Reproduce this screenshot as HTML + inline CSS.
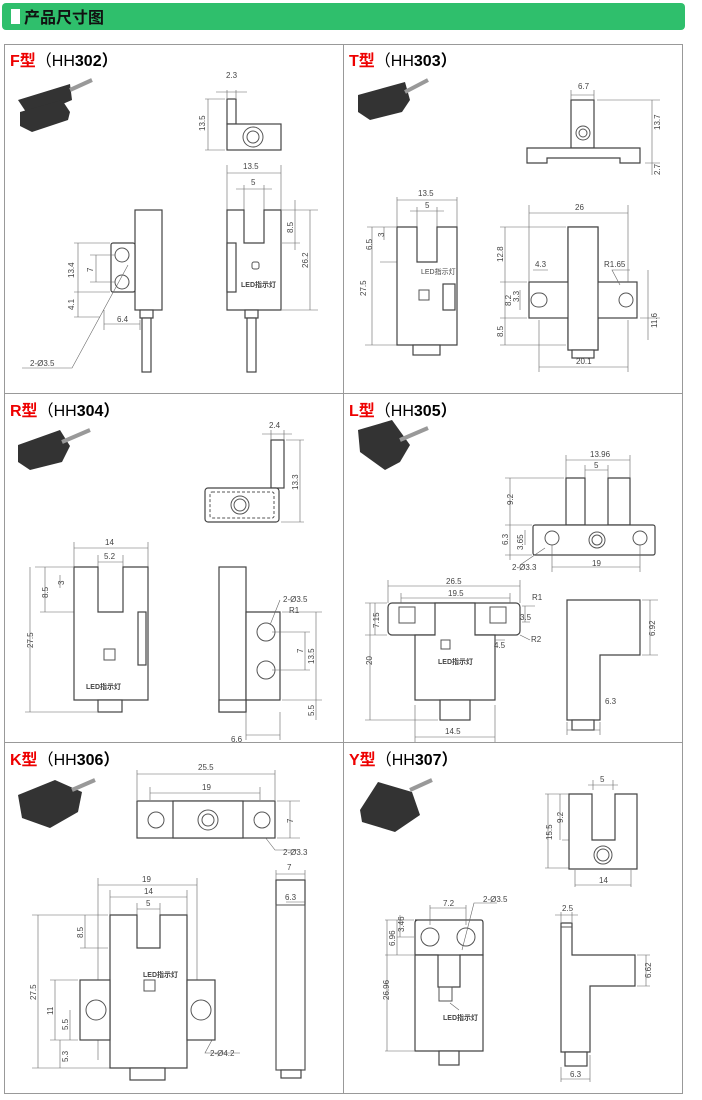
<!DOCTYPE html>
<html><head><meta charset="utf-8"><style>
body{margin:0;background:#fff;width:702px;height:1100px;overflow:hidden}
svg{display:block}
.l{stroke:#555;stroke-width:1;fill:none}
.d{stroke:#666;stroke-width:.6;fill:none}
.b{stroke:#444;stroke-width:1.2;fill:#fff}
text{font-family:"Liberation Sans","Noto Sans CJK SC",sans-serif;fill:#444;font-size:8px}
.t{font-size:16px;font-weight:bold;fill:#000}
.ph{fill:#333}
</style></head><body>
<svg width="702" height="1100" viewBox="0 0 702 1100" xmlns="http://www.w3.org/2000/svg">
<rect x="2" y="3" width="683" height="27" rx="4" fill="#2fbf6c"/>
<rect x="11" y="9" width="9" height="15" fill="#fff"/>
<text x="24" y="23" style="font-size:16px;font-weight:bold;fill:#111">产品尺寸图</text>
<rect x="4.5" y="44.5" width="678" height="1049" fill="none" stroke="#999"/>
<line x1="343.5" y1="44" x2="343.5" y2="1093" stroke="#999"/>
<line x1="4" y1="393.5" x2="683" y2="393.5" stroke="#999"/>
<line x1="4" y1="742.5" x2="683" y2="742.5" stroke="#999"/>

<!-- titles -->
<text x="10" y="66" class="t"><tspan fill="#e00">F型</tspan><tspan font-weight="normal">（HH</tspan>302）</text>
<text x="349" y="66" class="t"><tspan fill="#e00">T型</tspan><tspan font-weight="normal">（HH</tspan>303）</text>
<text x="10" y="416" class="t"><tspan fill="#e00">R型</tspan><tspan font-weight="normal">（HH</tspan>304）</text>
<text x="349" y="416" class="t"><tspan fill="#e00">L型</tspan><tspan font-weight="normal">（HH</tspan>305）</text>
<text x="10" y="765" class="t"><tspan fill="#e00">K型</tspan><tspan font-weight="normal">（HH</tspan>306）</text>
<text x="349" y="765" class="t"><tspan fill="#e00">Y型</tspan><tspan font-weight="normal">（HH</tspan>307）</text>

<!-- photos -->
<g class="ph">
<polygon points="18,100 70,84 72,100 30,118"/><polygon points="20,112 62,100 70,112 68,120 32,132 20,126"/><line x1="70" y1="90" x2="92" y2="80" stroke="#999" stroke-width="4"/>
<polygon points="358,95 405,82 410,100 402,112 370,120 358,112"/><line x1="405" y1="92" x2="428" y2="80" stroke="#999" stroke-width="4"/>
<polygon points="18,445 60,430 70,446 62,462 30,470 18,462"/><line x1="62" y1="442" x2="90" y2="430" stroke="#999" stroke-width="4"/>
<polygon points="358,430 392,420 410,445 400,462 385,470 360,452"/><line x1="400" y1="440" x2="428" y2="428" stroke="#999" stroke-width="4"/>
<polygon points="18,795 55,780 82,792 78,812 50,828 22,818"/><line x1="72" y1="790" x2="95" y2="780" stroke="#999" stroke-width="4"/>
<polygon points="360,810 378,782 412,792 420,815 395,832 362,822"/><line x1="410" y1="790" x2="432" y2="780" stroke="#999" stroke-width="4"/>
</g>

<!-- F top -->
<rect x="227" y="99" width="9" height="25" class="b"/><rect x="227" y="124" width="54" height="26" class="b"/>
<circle cx="253" cy="137" r="10" class="l"/><circle cx="253" cy="137" r="6" class="l"/>
<path class="d" d="M227 90V98M236 90V98M216 92H247M205 99H225M205 150H225M208 99V150"/>
<text x="226" y="78">2.3</text><text x="205" y="131" transform="rotate(-90 205 131)">13.5</text>
<!-- F front -->
<path class="d" d="M227 165V210M281 165V210M227 173H281M244 185V210M264 185V210M236 189H272M282 210H318M282 243H300M295 200V250M310 210V310M282 310H318"/>
<text x="243" y="169">13.5</text><text x="251" y="185">5</text>
<text x="293" y="233" transform="rotate(-90 293 233)">8.5</text><text x="308" y="268" transform="rotate(-90 308 268)">26.2</text>
<path class="b" d="M227 210H244V243H264V210H281V310H227Z"/>
<rect x="227" y="243" width="9" height="49" class="b"/>
<rect x="252" y="262" width="7" height="7" rx="2" class="l"/><text x="241" y="287" style="font-size:7px;font-weight:bold">LED指示灯</text>
<rect x="245" y="310" width="13" height="8" class="b"/><rect x="247" y="318" width="9" height="54" class="b"/>
<!-- F side -->
<rect x="135" y="210" width="27" height="100" class="b"/>
<rect x="111" y="243" width="24" height="49" rx="2" class="b"/>
<circle cx="122" cy="255" r="7" class="l"/><circle cx="122" cy="282" r="7" class="l"/>
<rect x="140" y="310" width="13" height="8" class="b"/><rect x="142" y="318" width="9" height="54" class="b"/>
<path class="d" d="M74 243H110M74 292H110M78 243V317M74 317H100M90 255H115M90 282H115M96 255V282M104 310V330M140 320V330M104 324H140M22 368H72L128 265"/>
<text x="74" y="278" transform="rotate(-90 74 278)">13.4</text><text x="93" y="272" transform="rotate(-90 93 272)">7</text><text x="74" y="310" transform="rotate(-90 74 310)">4.1</text>
<text x="117" y="322">6.4</text><text x="30" y="366">2-Ø3.5</text>

<!-- T top -->
<rect x="571" y="100" width="23" height="48" class="b"/><circle cx="583" cy="133" r="7" class="l"/><circle cx="583" cy="133" r="4" class="l"/>
<path class="b" d="M527 148H640V163H620V158H547V163H527Z"/>
<path class="d" d="M571 90V100M594 90V100M571 95H594M597 100H660M645 163H660M652 100V175"/>
<text x="578" y="89">6.7</text><text x="660" y="130" transform="rotate(-90 660 130)">13.7</text><text x="660" y="175" transform="rotate(-90 660 175)">2.7</text>
<!-- T front -->
<path class="d" d="M397 197V227M457 197V227M397 200H457M417 207V227M437 207V227M410 211H444M367 227H396M380 262H416M372 227V345M365 345H412M384 227V240"/>
<text x="418" y="196">13.5</text><text x="425" y="208">5</text><text x="372" y="250" transform="rotate(-90 372 250)">6.5</text><text x="384" y="237" transform="rotate(-90 384 237)">3</text><text x="366" y="296" transform="rotate(-90 366 296)">27.5</text>
<path class="b" d="M397 227H417V262H437V227H457V345H397Z"/>
<rect x="443" y="284" width="12" height="26" class="b"/>
<rect x="419" y="290" width="10" height="10" class="l"/><text x="421" y="274" style="font-size:7px">LED指示灯</text>
<rect x="413" y="345" width="27" height="10" class="b"/>
<!-- T side -->
<rect x="568" y="227" width="30" height="123" class="b"/>
<rect x="529" y="282" width="108" height="36" class="b"/>
<rect x="531" y="293" width="16" height="14" rx="7" class="l"/><rect x="619" y="293" width="14" height="14" rx="7" class="l"/>
<rect x="568" y="227" width="30" height="123" fill="#fff" stroke="#444" stroke-width="1.2"/>
<rect x="572" y="350" width="22" height="8" class="b"/>
<path class="d" d="M529 205V282M628 205V282M529 213H628M500 227H566M500 282H527M500 318H527M500 345H566M505 227V345M520 290V310M533 270H548M620 285L612 270H630M640 318H660M648 270V340M539 320V372M628 320V372M539 367H628"/>
<text x="575" y="210">26</text><text x="503" y="262" transform="rotate(-90 503 262)">12.8</text><text x="511" y="306" transform="rotate(-90 511 306)">8.2</text><text x="519" y="302" transform="rotate(-90 519 302)">3.3</text><text x="503" y="337" transform="rotate(-90 503 337)">8.5</text>
<text x="535" y="267">4.3</text><text x="604" y="267">R1.65</text><text x="657" y="328" transform="rotate(-90 657 328)">11.6</text><text x="576" y="364">20.1</text>

<!-- R top -->
<rect x="271" y="440" width="13" height="48" class="b"/>
<rect x="205" y="488" width="74" height="34" rx="3" class="b"/>
<rect x="210" y="492" width="64" height="26" rx="2" fill="none" stroke="#555" stroke-dasharray="3,2"/>
<circle cx="240" cy="505" r="9" class="l"/><circle cx="240" cy="505" r="6" class="l"/>
<path class="d" d="M271 430V440M284 430V440M262 434H292M286 440H304M281 522H304M300 440V522"/>
<text x="269" y="428">2.4</text><text x="298" y="490" transform="rotate(-90 298 490)">13.3</text>
<!-- R front -->
<path class="d" d="M74 542V567M148 542V567M74 548H148M98 555V567M123 555V567M98 562H123M35 567H73M40 612H97M45 567V612M60 575V588M30 567V712M25 712H97"/>
<text x="105" y="545">14</text><text x="104" y="559">5.2</text><text x="48" y="598" transform="rotate(-90 48 598)">8.5</text><text x="64" y="585" transform="rotate(-90 64 585)">3</text><text x="33" y="648" transform="rotate(-90 33 648)">27.5</text>
<path class="b" d="M74 567H98V612H123V567H148V700H74Z"/>
<rect x="138" y="612" width="8" height="53" class="b"/>
<rect x="104" y="649" width="11" height="11" class="l"/><text x="86" y="689" style="font-size:7px;font-weight:bold">LED指示灯</text>
<rect x="98" y="700" width="24" height="12" class="b"/>
<!-- R side -->
<rect x="219" y="567" width="27" height="145" class="b"/>
<path class="b" d="M246 612H280V700H246Z"/>
<circle cx="266" cy="632" r="9" class="l"/><circle cx="266" cy="670" r="9" class="l"/>
<rect x="219" y="700" width="27" height="12" class="b"/>
<path class="d" d="M282 612H322M282 700H322M272 632H310M272 670H310M305 632V670M316 612V720M280 600L270 625M246 712V740M280 712V740M246 735H280"/>
<text x="283" y="602">2-Ø3.5</text><text x="289" y="613">R1</text><text x="303" y="653" transform="rotate(-90 303 653)">7</text><text x="314" y="664" transform="rotate(-90 314 664)">13.5</text><text x="314" y="716" transform="rotate(-90 314 716)">5.5</text><text x="231" y="742">6.6</text>

<!-- L top -->
<path class="b" d="M566 478H585V525H566ZM608 478H630V525H608Z"/>
<rect x="533" y="525" width="122" height="30" rx="2" class="b"/>
<circle cx="552" cy="538" r="7" class="l"/><circle cx="597" cy="540" r="8" class="l"/><circle cx="597" cy="540" r="5" class="l"/><circle cx="640" cy="538" r="7" class="l"/>
<path class="d" d="M566 455V478M630 455V478M566 460H630M585 465V478M608 465V478M585 470H608M505 478H564M505 525H532M510 478V560M505 555H532M525 530V545M552 545V572M640 545V572M552 567H640M545 548L520 565"/>
<text x="590" y="457">13.96</text><text x="594" y="468">5</text><text x="513" y="505" transform="rotate(-90 513 505)">9.2</text><text x="508" y="545" transform="rotate(-90 508 545)">6.3</text><text x="523" y="550" transform="rotate(-90 523 550)">3.65</text><text x="592" y="566">19</text><text x="512" y="570">2-Ø3.3</text>
<!-- L front -->
<rect x="388" y="603" width="132" height="32" rx="4" class="b"/>
<path class="b" d="M415 635H435V603H475V635H495V700H415Z"/>
<rect x="399" y="607" width="16" height="16" class="l"/><rect x="490" y="607" width="16" height="16" class="l"/>
<rect x="441" y="640" width="9" height="9" class="l"/><text x="438" y="664" style="font-size:7px;font-weight:bold">LED指示灯</text>
<rect x="440" y="700" width="30" height="20" class="b"/>
<path class="d" d="M388 580V603M520 580V603M388 586H520M401 593V603M510 593V603M401 598H510M365 603H387M375 603V635M365 635H387M370 603V720M365 720H438M522 606H535M522 622H530M525 606V622M495 640H505M415 705V742M495 705V742M415 737H495M520 635L530 640"/>
<text x="446" y="584">26.5</text><text x="448" y="596">19.5</text><text x="379" y="628" transform="rotate(-90 379 628)">7.15</text><text x="372" y="665" transform="rotate(-90 372 665)">20</text>
<text x="532" y="600">R1</text><text x="520" y="620">3.5</text><text x="494" y="648">4.5</text><text x="531" y="642">R2</text><text x="445" y="734">14.5</text>
<!-- L side -->
<path class="b" d="M567 600H640V655H600V720H567Z"/>
<rect x="572" y="720" width="22" height="10" class="b"/>
<path class="d" d="M642 600H658M642 655H658M650 600V655M567 722V735M600 722V735M567 730H600"/>
<text x="655" y="636" transform="rotate(-90 655 636)">6.92</text><text x="605" y="704">6.3</text>

<!-- K top -->
<path class="d" d="M137 770V800M275 770V800M137 774H275M150 787V800M260 787V800M150 793H260M277 801H300M277 838H300M290 801V838M258 828L275 850H298"/>
<text x="198" y="770">25.5</text><text x="202" y="790">19</text><text x="293" y="823" transform="rotate(-90 293 823)">7</text><text x="283" y="855">2-Ø3.3</text>
<rect x="137" y="801" width="138" height="37" class="b"/><rect x="173" y="801" width="70" height="37" class="b"/>
<circle cx="156" cy="820" r="8" class="l"/><circle cx="208" cy="820" r="10" class="l"/><circle cx="208" cy="820" r="6" class="l"/><circle cx="262" cy="820" r="8" class="l"/>
<!-- K front -->
<path class="d" d="M98 878V1060M197 878V980M98 885H197M110 890V915M187 890V915M110 897H187M137 903V915M160 903V915M137 909H160M32 915H108M80 948H108M85 915V948M50 980H78M50 1040H78M55 980V1040M70 1010V1040M32 1068H128M38 915V1068M212 1040L205 1053H240M60 1040V1068"/>
<text x="142" y="882">19</text><text x="144" y="894">14</text><text x="146" y="906">5</text><text x="36" y="1000" transform="rotate(-90 36 1000)">27.5</text><text x="83" y="938" transform="rotate(-90 83 938)">8.5</text><text x="53" y="1015" transform="rotate(-90 53 1015)">11</text><text x="68" y="1030" transform="rotate(-90 68 1030)">5.5</text><text x="68" y="1062" transform="rotate(-90 68 1062)">5.3</text><text x="210" y="1056">2-Ø4.2</text>
<path class="b" d="M110 915H137V948H160V915H187V1068H110Z"/>
<rect x="80" y="980" width="30" height="60" class="b"/><rect x="187" y="980" width="28" height="60" class="b"/>
<circle cx="96" cy="1010" r="10" class="l"/><circle cx="201" cy="1010" r="10" class="l"/>
<rect x="144" y="980" width="11" height="11" class="l"/><text x="143" y="977" style="font-size:7px;font-weight:bold">LED指示灯</text>
<rect x="130" y="1068" width="35" height="12" class="b"/>
<!-- K side -->
<rect x="276" y="880" width="29" height="190" class="b"/><rect x="276" y="905" width="29" height="165" class="l"/>
<rect x="281" y="1070" width="20" height="8" class="b"/>
<path class="d" d="M276 870V880M305 870V880M276 874H305M286 902H305"/>
<text x="287" y="870">7</text><text x="285" y="900">6.3</text>

<!-- Y top -->
<path class="d" d="M593 780V790M613 780V790M588 785H618M545 794H574M562 840H574M548 794V868M560 794V840M545 868H574M575 870V887M631 870V887M575 885H631"/>
<text x="600" y="782">5</text><text x="552" y="840" transform="rotate(-90 552 840)">15.5</text><text x="563" y="823" transform="rotate(-90 563 823)">9.2</text><text x="599" y="883">14</text>
<path class="b" d="M569 794H592V840H615V794H637V869H569Z"/>
<circle cx="603" cy="855" r="9" class="l"/><circle cx="603" cy="855" r="6" class="l"/>
<!-- Y front -->
<path class="b" d="M415 920H481Q483 920 483 923V955H415V923Q415 920 418 920Z"/>
<path class="b" d="M415 955H438V987H460V955H483V1051H415Z"/>
<circle cx="430" cy="937" r="9" class="l"/><circle cx="466" cy="937" r="9" class="l"/>
<rect x="439" y="987" width="13" height="14" class="l"/><text x="443" y="1020" style="font-size:7px;font-weight:bold">LED指示灯</text>
<rect x="439" y="1051" width="20" height="14" class="b"/>
<path class="d" d="M430 905V925M466 905V925M430 908H466M462 950L474 903H497M385 920H414M400 915V937M397 937H414M385 955H414M397 920V955M387 920V1051M385 1051H414M450 1003L459 1010"/>
<text x="443" y="906">7.2</text><text x="483" y="902">2-Ø3.5</text><text x="395" y="946" transform="rotate(-90 395 946)">6.96</text><text x="404" y="932" transform="rotate(-90 404 932)">3.46</text><text x="389" y="1000" transform="rotate(-90 389 1000)">26.96</text>
<!-- Y side -->
<path class="b" d="M561 923H572V955H635V986H590V1052H561Z"/>
<line x1="561" y1="927" x2="572" y2="927" class="l"/>
<rect x="565" y="1052" width="22" height="14" class="b"/>
<path class="d" d="M561 912V922M572 912V922M555 915H578M637 955H650M637 986H650M646 955V986M561 1067V1082M590 1055V1082M561 1079H590"/>
<text x="562" y="911">2.5</text><text x="651" y="978" transform="rotate(-90 651 978)">6.62</text><text x="570" y="1077">6.3</text>
</svg>
</body></html>
